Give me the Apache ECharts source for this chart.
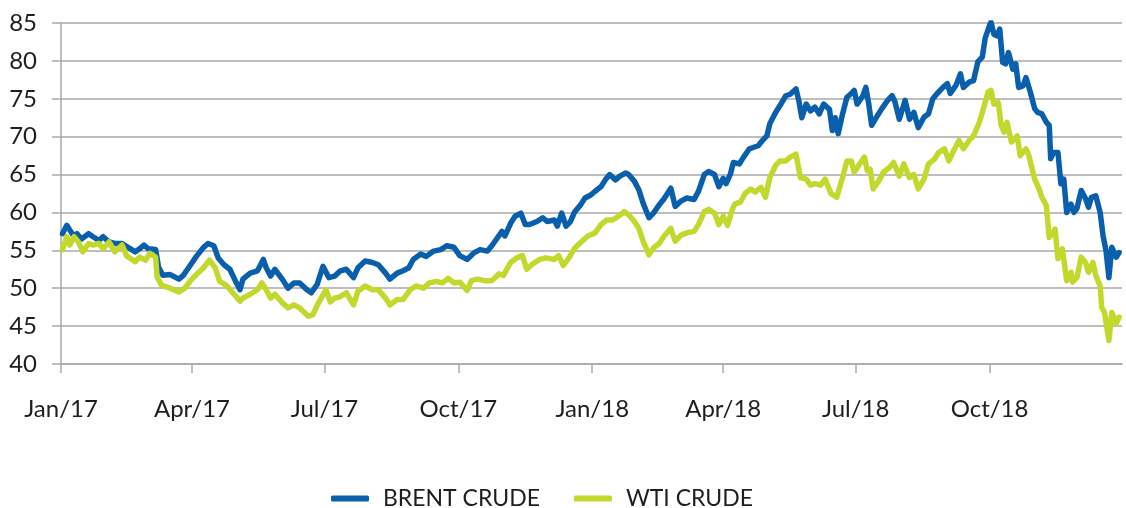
<!DOCTYPE html>
<html>
<head>
<meta charset="utf-8">
<script src="https://cdn.jsdelivr.net/npm/echarts@6/dist/echarts.min.js"></script>
<style>
  html, body { margin: 0; padding: 0; background: #ffffff; }
  #chart { width: 1126px; height: 508px; }
</style>
</head>
<body>
<div id="chart"></div>
<script>
// Brent crude, USD per barrel
const brentDates = [
  '2017-01-02','2017-01-05','2017-01-07','2017-01-10','2017-01-12','2017-01-15','2017-01-20','2017-01-23','2017-01-27','2017-01-30',
  '2017-02-03','2017-02-07','2017-02-12','2017-02-16','2017-02-21','2017-02-24','2017-02-27','2017-03-02','2017-03-07','2017-03-09',
  '2017-03-12','2017-03-17','2017-03-23','2017-03-26','2017-03-30','2017-04-04','2017-04-09','2017-04-12','2017-04-16','2017-04-19',
  '2017-04-23','2017-04-27','2017-05-01','2017-05-04','2017-05-06','2017-05-11','2017-05-16','2017-05-20','2017-05-22','2017-05-25',
  '2017-05-28','2017-06-02','2017-06-06','2017-06-10','2017-06-14','2017-06-19','2017-06-22','2017-06-26','2017-06-30','2017-07-04',
  '2017-07-08','2017-07-12','2017-07-16','2017-07-21','2017-07-24','2017-07-29','2017-08-03','2017-08-07','2017-08-12','2017-08-15',
  '2017-08-20','2017-08-24','2017-08-28','2017-08-31','2017-09-05','2017-09-09','2017-09-14','2017-09-19','2017-09-23','2017-09-28',
  '2017-10-02','2017-10-07','2017-10-12','2017-10-16','2017-10-21','2017-10-24','2017-10-28','2017-10-31','2017-11-02','2017-11-06',
  '2017-11-09','2017-11-13','2017-11-16','2017-11-19','2017-11-24','2017-11-28','2017-12-01','2017-12-06','2017-12-08','2017-12-11',
  '2017-12-14','2017-12-17','2017-12-20','2017-12-24','2017-12-27','2017-12-31','2018-01-03','2018-01-07','2018-01-10','2018-01-13',
  '2018-01-17','2018-01-20','2018-01-24','2018-01-26','2018-01-30','2018-02-02','2018-02-05','2018-02-09','2018-02-12','2018-02-16',
  '2018-02-19','2018-02-24','2018-02-27','2018-03-03','2018-03-07','2018-03-12','2018-03-15','2018-03-19','2018-03-22','2018-03-26',
  '2018-03-29','2018-04-01','2018-04-03','2018-04-06','2018-04-08','2018-04-12','2018-04-15','2018-04-19','2018-04-22','2018-04-25',
  '2018-04-28','2018-05-01','2018-05-03','2018-05-07','2018-05-10','2018-05-14','2018-05-17','2018-05-21','2018-05-23','2018-05-25',
  '2018-05-28','2018-05-31','2018-06-03','2018-06-06','2018-06-09','2018-06-13','2018-06-15','2018-06-17','2018-06-19','2018-06-22',
  '2018-06-25','2018-06-28','2018-06-30','2018-07-02','2018-07-06','2018-07-08','2018-07-10','2018-07-12','2018-07-16','2018-07-19',
  '2018-07-23','2018-07-26','2018-07-28','2018-07-31','2018-08-04','2018-08-07','2018-08-10','2018-08-13','2018-08-17','2018-08-20',
  '2018-08-23','2018-08-26','2018-08-30','2018-09-02','2018-09-04','2018-09-08','2018-09-11','2018-09-13','2018-09-17','2018-09-20',
  '2018-09-23','2018-09-26','2018-09-28','2018-10-01','2018-10-02','2018-10-04','2018-10-06','2018-10-08','2018-10-10','2018-10-12',
  '2018-10-14','2018-10-17','2018-10-19','2018-10-21','2018-10-24','2018-10-26','2018-10-29','2018-11-01','2018-11-03','2018-11-06',
  '2018-11-09','2018-11-11','2018-11-12','2018-11-14','2018-11-17','2018-11-19','2018-11-21','2018-11-23','2018-11-26','2018-11-28',
  '2018-11-30','2018-12-03','2018-12-06','2018-12-08','2018-12-10','2018-12-13','2018-12-16','2018-12-18','2018-12-20','2018-12-22',
  '2018-12-24','2018-12-27','2018-12-29'
];
const brentValues = [
  57.2,58.3,57.7,56.8,57.2,56.5,57.2,56.8,56.3,56.8,
  56.1,55.9,55.9,55.4,54.8,55.2,55.7,55.2,55.1,52.8,
  51.7,51.8,51.2,51.7,52.8,54.2,55.4,55.9,55.6,54.0,
  53.1,52.5,50.9,49.8,51.2,52.0,52.3,53.8,52.7,51.6,
  52.5,51.2,50.0,50.7,50.7,49.8,49.4,50.5,52.9,51.4,
  51.6,52.3,52.5,51.4,52.7,53.6,53.4,53.1,52.0,51.2,
  52.0,52.3,52.7,53.8,54.5,54.2,54.9,55.1,55.6,55.4,
  54.3,53.8,54.7,55.1,54.9,55.6,56.7,57.5,56.9,58.6,
  59.5,59.9,58.4,58.4,58.8,59.3,58.8,59.0,58.2,59.9,
  58.2,58.8,60.1,61.0,61.9,62.3,62.8,63.4,64.3,65.0,
  64.3,64.8,65.2,65.0,64.1,63.0,61.2,59.3,59.9,61.0,
  61.7,63.2,60.8,61.5,61.9,61.7,62.8,65.0,65.4,65.0,
  63.4,64.5,63.8,65.1,66.6,66.4,67.3,68.4,68.6,68.8,
  69.5,70.1,71.7,73.2,74.1,75.4,75.6,76.3,74.7,72.5,
  74.3,73.4,73.9,73.0,74.3,73.6,70.8,72.5,70.4,73.0,
  75.2,75.7,76.1,74.3,75.4,76.5,74.3,71.5,72.8,73.7,
  74.8,75.4,74.6,72.3,74.8,72.3,73.2,71.2,72.6,73.0,
  75.0,75.7,76.5,77.0,75.7,76.8,78.3,76.5,77.2,77.4,
  79.9,80.5,83.0,84.7,85.1,83.5,83.3,84.2,79.8,79.6,
  81.1,78.9,79.6,76.5,76.7,77.8,75.9,73.7,73.2,73.0,
  71.9,71.5,67.1,67.9,67.9,63.8,64.4,60.0,61.1,60.0,
  60.5,62.9,61.8,60.7,62.0,62.2,60.0,56.9,55.0,51.4,
  55.4,54.1,54.7
];

// WTI crude, USD per barrel
const wtiDates = [
  '2017-01-02','2017-01-05','2017-01-07','2017-01-10','2017-01-13','2017-01-16','2017-01-20','2017-01-23','2017-01-27','2017-01-30',
  '2017-02-03','2017-02-07','2017-02-12','2017-02-15','2017-02-21','2017-02-24','2017-02-28','2017-03-03','2017-03-07','2017-03-08',
  '2017-03-11','2017-03-17','2017-03-23','2017-03-27','2017-03-31','2017-04-04','2017-04-09','2017-04-13','2017-04-17','2017-04-20',
  '2017-04-25','2017-04-29','2017-05-04','2017-05-06','2017-05-11','2017-05-16','2017-05-19','2017-05-22','2017-05-25','2017-05-28',
  '2017-06-02','2017-06-06','2017-06-10','2017-06-14','2017-06-20','2017-06-23','2017-06-27','2017-07-02','2017-07-05','2017-07-08',
  '2017-07-12','2017-07-16','2017-07-21','2017-07-24','2017-07-29','2017-08-03','2017-08-07','2017-08-12','2017-08-15','2017-08-20',
  '2017-08-24','2017-08-29','2017-09-02','2017-09-07','2017-09-11','2017-09-16','2017-09-20','2017-09-24','2017-09-28','2017-10-02',
  '2017-10-07','2017-10-10','2017-10-14','2017-10-19','2017-10-24','2017-10-29','2017-11-01','2017-11-06','2017-11-10','2017-11-14',
  '2017-11-17','2017-11-21','2017-11-26','2017-11-30','2017-12-06','2017-12-09','2017-12-12','2017-12-16','2017-12-20','2017-12-25',
  '2017-12-29','2018-01-03','2018-01-07','2018-01-11','2018-01-15','2018-01-19','2018-01-23','2018-01-26','2018-01-30','2018-02-02',
  '2018-02-05','2018-02-09','2018-02-12','2018-02-16','2018-02-19','2018-02-24','2018-02-27','2018-03-03','2018-03-07','2018-03-12',
  '2018-03-15','2018-03-19','2018-03-22','2018-03-26','2018-03-29','2018-04-01','2018-04-04','2018-04-07','2018-04-09','2018-04-13',
  '2018-04-16','2018-04-20','2018-04-23','2018-04-27','2018-04-30','2018-05-03','2018-05-07','2018-05-10','2018-05-14','2018-05-17',
  '2018-05-21','2018-05-24','2018-05-28','2018-05-31','2018-06-03','2018-06-07','2018-06-10','2018-06-14','2018-06-18','2018-06-22',
  '2018-06-25','2018-06-28','2018-06-30','2018-07-03','2018-07-07','2018-07-09','2018-07-11','2018-07-13','2018-07-17','2018-07-20',
  '2018-07-24','2018-07-27','2018-07-31','2018-08-03','2018-08-07','2018-08-10','2018-08-13','2018-08-17','2018-08-20','2018-08-24',
  '2018-08-27','2018-08-31','2018-09-03','2018-09-07','2018-09-10','2018-09-13','2018-09-17','2018-09-20','2018-09-24','2018-09-26',
  '2018-09-30','2018-10-02','2018-10-04','2018-10-07','2018-10-09','2018-10-11','2018-10-13','2018-10-16','2018-10-20','2018-10-22',
  '2018-10-26','2018-10-28','2018-11-01','2018-11-04','2018-11-06','2018-11-09','2018-11-11','2018-11-15','2018-11-17','2018-11-20',
  '2018-11-23','2018-11-26','2018-11-27','2018-11-30','2018-12-03','2018-12-06','2018-12-08','2018-12-11','2018-12-13','2018-12-16',
  '2018-12-17','2018-12-19','2018-12-22','2018-12-24','2018-12-27','2018-12-29'
];
const wtiValues = [
  55.1,56.8,55.7,56.8,56.1,54.8,55.9,55.7,55.9,55.2,
  56.1,54.8,55.7,54.3,53.5,54.1,53.7,54.6,54.1,51.5,
  50.4,50.0,49.5,50.0,51.0,51.8,52.7,53.7,52.7,50.9,
  50.3,49.4,48.3,48.7,49.2,49.8,50.7,49.8,48.7,49.2,
  48.1,47.4,47.8,47.4,46.3,46.5,48.1,49.8,48.2,48.7,
  48.9,49.4,47.8,49.6,50.3,49.8,49.8,48.7,47.8,48.5,
  48.5,49.8,50.3,50.0,50.7,50.9,50.7,51.3,50.7,50.8,
  49.7,51.0,51.2,51.0,51.0,51.9,51.7,53.4,54.0,54.3,
  52.5,53.2,53.8,54.0,53.8,54.3,53.0,54.0,55.3,56.2,
  56.9,57.3,58.4,59.0,59.0,59.5,60.1,59.7,58.8,57.9,
  56.2,54.4,55.3,55.9,56.8,57.9,56.2,57.0,57.3,57.5,
  58.4,60.1,60.4,59.9,58.4,59.5,58.3,60.3,61.1,61.4,
  62.5,63.1,62.7,63.3,62.0,64.6,66.2,66.8,66.8,67.3,
  67.7,64.6,64.4,63.6,63.8,63.6,64.4,62.5,62.0,64.6,
  66.8,66.8,65.3,66.2,67.3,65.5,65.7,63.1,64.2,65.3,
  65.9,66.6,64.8,66.4,64.6,65.0,63.1,64.4,66.4,67.0,
  67.9,68.4,66.8,68.4,69.5,68.4,69.5,70.1,71.9,73.2,
  75.9,76.1,74.3,74.5,71.5,70.6,71.9,69.3,70.1,67.5,
  68.4,67.5,64.4,63.1,62.0,60.9,56.7,57.8,53.9,55.2,
  51.0,52.1,50.8,51.4,54.1,53.4,52.1,53.4,51.7,50.3,
  47.5,46.8,43.1,46.8,45.3,46.2
];

// Quarter ticks on the date axis
const tickDates = ['2017-01-01','2017-04-01','2017-07-01','2017-10-01','2018-01-01','2018-04-01','2018-07-01','2018-10-01'];
const tickLabels = ['Jan/17','Apr/17','Jul/17','Oct/17','Jan/18','Apr/18','Jul/18','Oct/18'];
const axisStart = '2017-01-01';
const axisEnd = '2018-12-31';

const seriesNames = ['BRENT CRUDE', 'WTI CRUDE'];
const seriesColors = ['#0a5fac', '#c2d82c'];

function toTime(s) {
  const p = s.split('-').map(Number);
  return Date.UTC(p[0], p[1] - 1, p[2]);
}
function zip(dates, values) {
  return dates.map((d, i) => [toTime(d), values[i]]);
}

const tickTimes = tickDates.map(toTime);
const labelFont = 'Lato, "Noto Sans", sans-serif';
const gridColor = '#a9a9a9';

const chart = echarts.init(document.getElementById('chart'), null, { renderer: 'canvas' });

chart.setOption({
  animation: false,
  backgroundColor: '#ffffff',
  grid: { left: 61, right: 4, top: 23, bottom: 144, containLabel: false },
  legend: {
    top: 482,
    left: 326,
    itemGap: 34,
    itemWidth: 38,
    itemHeight: 6,
    icon: 'roundRect',
    textStyle: { fontFamily: labelFont, fontSize: 23, color: '#1e1e1e', padding: [0, 0, 0, 9] },
    data: seriesNames
  },
  xAxis: {
    type: 'value',
    min: toTime(axisStart),
    max: toTime(axisEnd),
    axisLine: { show: true, lineStyle: { color: gridColor, width: 1.5 } },
    axisTick: {
      show: true,
      length: 9,
      inside: false,
      customValues: tickTimes,
      lineStyle: { color: gridColor, width: 1.5 }
    },
    axisLabel: {
      customValues: tickTimes,
      margin: 33,
      fontFamily: labelFont,
      fontSize: 24,
      color: '#1e1e1e',
      formatter: function (v) {
        const i = tickTimes.indexOf(v);
        return i >= 0 ? tickLabels[i] : '';
      }
    },
    splitLine: { show: false }
  },
  yAxis: {
    type: 'value',
    min: 40,
    max: 85,
    interval: 5,
    axisLine: { show: true, lineStyle: { color: gridColor, width: 1.5 } },
    axisTick: { show: true, length: 9, inside: false, lineStyle: { color: gridColor, width: 1.5 } },
    axisLabel: {
      margin: 24,
      fontFamily: labelFont,
      fontSize: 24,
      color: '#1e1e1e'
    },
    splitLine: { show: true, lineStyle: { color: gridColor, width: 1.5 } }
  },
  series: [
    {
      name: seriesNames[0],
      type: 'line',
      data: zip(brentDates, brentValues),
      showSymbol: false,
      color: seriesColors[0],
      lineStyle: { width: 5.5, color: seriesColors[0], join: 'round', cap: 'round' }
    },
    {
      name: seriesNames[1],
      type: 'line',
      data: zip(wtiDates, wtiValues),
      showSymbol: false,
      color: seriesColors[1],
      lineStyle: { width: 5.5, color: seriesColors[1], join: 'round', cap: 'round' }
    }
  ]
});
</script>
</body>
</html>
